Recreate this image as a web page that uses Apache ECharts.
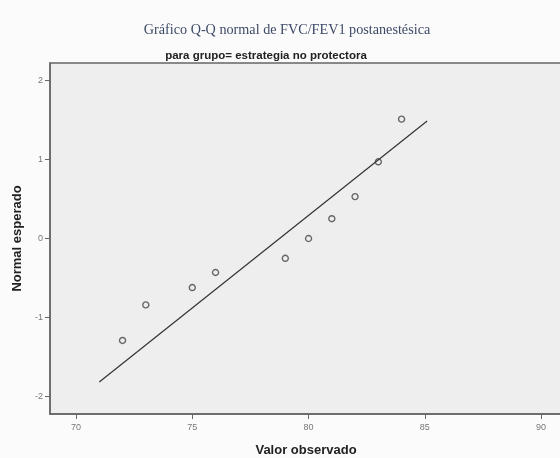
<!DOCTYPE html>
<html>
<head>
<meta charset="utf-8">
<script src="https://cdn.jsdelivr.net/npm/echarts@6/dist/echarts.min.js"></script>
<style>
  html, body { margin: 0; padding: 0; background: #fbfbfb; }
  #chart { width: 560px; height: 458px; }
</style>
</head>
<body>
<div id="chart"></div>
<script>
// Observed FVC/FEV1 values and their expected normal scores
const observed = [72, 73, 75, 76, 79, 80, 81, 82, 83, 84];
const expectedNormal = [-1.29, -0.84, -0.62, -0.43, -0.25, 0.0, 0.25, 0.53, 0.97, 1.51];

// Reference line endpoints
const lineX = [71, 85.1];
const lineY = [-1.815, 1.487];

// Tick values
const xTicks = [70, 75, 80, 85, 90];
const yTicks = [-2, -1, 0, 1, 2];

const chart = echarts.init(document.getElementById('chart'));

const points = observed.map((v, i) => [v, expectedNormal[i]]);
const linePts = lineX.map((v, i) => [v, lineY[i]]);

chart.setOption({
  animation: false,
  backgroundColor: '#fbfbfb',
  title: [
    {
      text: 'Gráfico Q-Q normal de FVC/FEV1 postanestésica',
      left: 282, top: 18, textAlign: 'center',
      textStyle: { fontFamily: 'Liberation Serif', fontSize: 14.2, fontWeight: 'normal', color: '#3d4a66' }
    },
    {
      text: 'para grupo= estrategia no protectora',
      left: 261, top: 45, textAlign: 'center',
      textStyle: { fontFamily: 'Liberation Sans', fontSize: 11.5, fontWeight: 'bold', color: '#222' }
    }
  ],
  grid: {
    left: 50, right: -2, top: 63, bottom: 44,
    outerBoundsMode: 'none', containLabel: false,
    show: true, backgroundColor: '#eeeeee', borderWidth: 1.5, borderColor: '#666'
  },
  xAxis: {
    type: 'value', min: 68.88, max: 90.9,
    name: 'Valor observado', nameLocation: 'middle', nameGap: 30,
    nameTextStyle: { fontFamily: 'Liberation Sans', fontSize: 13, fontWeight: 'bold', color: '#222' },
    axisLine: { show: true, onZero: false, lineStyle: { color: '#666', width: 1.5 } },
    axisTick: { show: true, customValues: xTicks, length: 5, lineStyle: { color: '#666' } },
    axisLabel: { customValues: xTicks, fontFamily: 'Liberation Sans', fontSize: 9, color: '#777', margin: 9 },
    splitLine: { show: false }
  },
  yAxis: {
    type: 'value', min: -2.22, max: 2.22,
    name: 'Normal esperado', nameLocation: 'middle', nameGap: 26, nameRotate: 90,
    nameTextStyle: { fontFamily: 'Liberation Sans', fontSize: 13, fontWeight: 'bold', color: '#222' },
    axisLine: { show: true, onZero: false, lineStyle: { color: '#666', width: 1.5 } },
    axisTick: { show: true, customValues: yTicks, length: 5, lineStyle: { color: '#666' } },
    axisLabel: { customValues: yTicks, fontFamily: 'Liberation Sans', fontSize: 9, color: '#777', margin: 7 },
    splitLine: { show: false }
  },
  series: [
    {
      type: 'line', data: linePts, symbol: 'none',
      lineStyle: { color: '#333', width: 1.2 }, z: 2
    },
    {
      type: 'scatter', data: points, symbol: 'circle', symbolSize: 6,
      itemStyle: { color: 'rgba(0,0,0,0)', borderColor: '#444', borderWidth: 1.4 }, z: 3
    }
  ]
});
</script>
</body>
</html>
